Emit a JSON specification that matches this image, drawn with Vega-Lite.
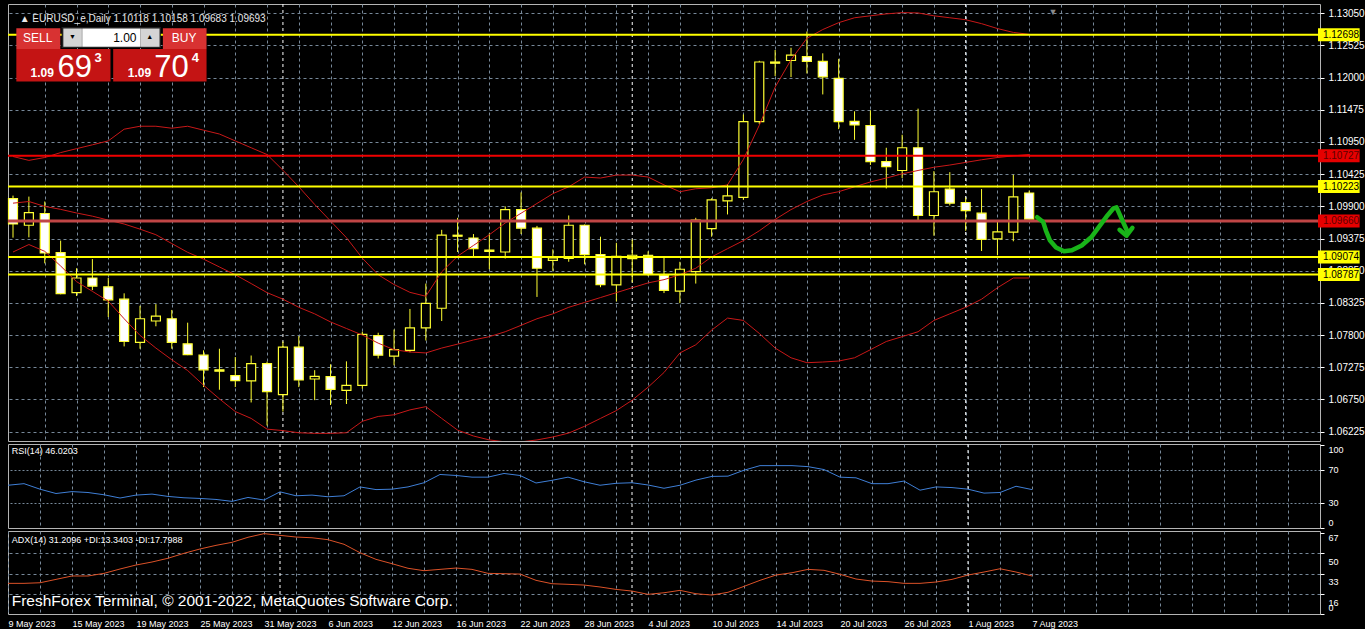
{
"$schema":"https://vega.github.io/schema/vega-lite/v6.json",
"background":"#000000",
"padding":{"left":5,"top":3,"right":0,"bottom":0},
"spacing":3,
"bounds":"flush",
"config":{"font":"Liberation Sans","view":{"stroke":"#b4b4b4","strokeWidth":1},"axis":{"labelOverlap":false}},
"datasets":{
"candles":[
{"k":0,"d":"2023-05-09","o":1.10027,"h":1.10075,"l":1.09389,"c":1.09612,"ub":1.10713,"mb":1.09952,"lb":1.09155,"rsi":51.2,"adx":25.1},
{"k":1,"d":"2023-05-10","o":1.09592,"h":1.10059,"l":1.09394,"c":1.09799,"ub":1.10650,"mb":1.09979,"lb":1.09277,"rsi":53.1,"adx":25.1},
{"k":2,"d":"2023-05-11","o":1.09783,"h":1.09979,"l":1.08970,"c":1.09139,"ub":1.10697,"mb":1.09899,"lb":1.09166,"rsi":46.5,"adx":25.6},
{"k":3,"d":"2023-05-12","o":1.09145,"h":1.09341,"l":1.08465,"c":1.08476,"ub":1.10777,"mb":1.09851,"lb":1.08927,"rsi":41.3,"adx":28.4},
{"k":4,"d":"2023-05-15","o":1.08492,"h":1.08890,"l":1.08438,"c":1.08731,"ub":1.10841,"mb":1.09792,"lb":1.08672,"rsi":43.6,"adx":31.2},
{"k":5,"d":"2023-05-16","o":1.08731,"h":1.09039,"l":1.08533,"c":1.08597,"ub":1.10904,"mb":1.09740,"lb":1.08513,"rsi":42.5,"adx":31.2},
{"k":6,"d":"2023-05-17","o":1.08587,"h":1.08731,"l":1.08094,"c":1.08374,"ub":1.10968,"mb":1.09676,"lb":1.08353,"rsi":39.8,"adx":33.4},
{"k":7,"d":"2023-05-18","o":1.08385,"h":1.08481,"l":1.07615,"c":1.07695,"ub":1.11159,"mb":1.09612,"lb":1.08066,"rsi":35.9,"adx":37.0},
{"k":8,"d":"2023-05-19","o":1.07679,"h":1.08278,"l":1.07577,"c":1.08066,"ub":1.11207,"mb":1.09528,"lb":1.07795,"rsi":39.4,"adx":40.3},
{"k":9,"d":"2023-05-22","o":1.08029,"h":1.08305,"l":1.07943,"c":1.08109,"ub":1.11207,"mb":1.09437,"lb":1.07588,"rsi":40.6,"adx":42.8},
{"k":10,"d":"2023-05-23","o":1.08066,"h":1.08210,"l":1.07577,"c":1.07679,"ub":1.11175,"mb":1.09293,"lb":1.07397,"rsi":37.8,"adx":45.9},
{"k":11,"d":"2023-05-24","o":1.07657,"h":1.08002,"l":1.07472,"c":1.07481,"ub":1.11207,"mb":1.09150,"lb":1.07221,"rsi":36.2,"adx":50.0},
{"k":12,"d":"2023-05-25","o":1.07472,"h":1.07551,"l":1.06951,"c":1.07233,"ub":1.11143,"mb":1.09039,"lb":1.06982,"rsi":35.4,"adx":53.6},
{"k":13,"d":"2023-05-26","o":1.07233,"h":1.07577,"l":1.06908,"c":1.07211,"ub":1.11080,"mb":1.08911,"lb":1.06759,"rsi":34.2,"adx":56.6},
{"k":14,"d":"2023-05-29","o":1.07138,"h":1.07441,"l":1.06951,"c":1.07058,"ub":1.10968,"mb":1.08784,"lb":1.06552,"rsi":31.9,"adx":59.1},
{"k":15,"d":"2023-05-30","o":1.07052,"h":1.07466,"l":1.06700,"c":1.07334,"ub":1.10856,"mb":1.08640,"lb":1.06440,"rsi":36.6,"adx":63.3},
{"k":16,"d":"2023-05-31","o":1.07334,"h":1.07366,"l":1.06324,"c":1.06876,"ub":1.10745,"mb":1.08492,"lb":1.06265,"rsi":33.5,"adx":66.3},
{"k":17,"d":"2023-06-01","o":1.06828,"h":1.07694,"l":1.06552,"c":1.07604,"ub":1.10490,"mb":1.08385,"lb":1.06241,"rsi":43.3,"adx":64.9},
{"k":18,"d":"2023-06-02","o":1.07604,"h":1.07783,"l":1.06951,"c":1.07067,"ub":1.10219,"mb":1.08253,"lb":1.06206,"rsi":38.6,"adx":63.5},
{"k":19,"d":"2023-06-05","o":1.07083,"h":1.07227,"l":1.06738,"c":1.07126,"ub":1.09931,"mb":1.08146,"lb":1.06196,"rsi":39.4,"adx":62.9},
{"k":20,"d":"2023-06-06","o":1.07121,"h":1.07323,"l":1.06659,"c":1.06914,"ub":1.09660,"mb":1.08014,"lb":1.06196,"rsi":37.4,"adx":61.3},
{"k":21,"d":"2023-06-07","o":1.06898,"h":1.07371,"l":1.06675,"c":1.06978,"ub":1.09389,"mb":1.07907,"lb":1.06206,"rsi":38.6,"adx":57.5},
{"k":22,"d":"2023-06-08","o":1.06978,"h":1.07854,"l":1.06924,"c":1.07811,"ub":1.09055,"mb":1.07800,"lb":1.06393,"rsi":49.2,"adx":50.5},
{"k":23,"d":"2023-06-09","o":1.07790,"h":1.07838,"l":1.07418,"c":1.07472,"ub":1.08784,"mb":1.07668,"lb":1.06472,"rsi":46.0,"adx":45.0},
{"k":24,"d":"2023-06-12","o":1.07456,"h":1.07890,"l":1.07306,"c":1.07561,"ub":1.08624,"mb":1.07561,"lb":1.06499,"rsi":46.5,"adx":41.4},
{"k":25,"d":"2023-06-13","o":1.07551,"h":1.08226,"l":1.07520,"c":1.07918,"ub":1.08497,"mb":1.07524,"lb":1.06579,"rsi":49.2,"adx":37.6},
{"k":26,"d":"2023-06-14","o":1.07918,"h":1.08640,"l":1.07711,"c":1.08316,"ub":1.08433,"mb":1.07508,"lb":1.06632,"rsi":54.2,"adx":35.6},
{"k":27,"d":"2023-06-15","o":1.08237,"h":1.09517,"l":1.08029,"c":1.09432,"ub":1.08832,"mb":1.07588,"lb":1.06440,"rsi":64.1,"adx":36.7},
{"k":28,"d":"2023-06-16","o":1.09429,"h":1.09713,"l":1.09155,"c":1.09413,"ub":1.09087,"mb":1.07652,"lb":1.06249,"rsi":62.9,"adx":37.8},
{"k":29,"d":"2023-06-19","o":1.09384,"h":1.09448,"l":1.09086,"c":1.09209,"ub":1.09262,"mb":1.07720,"lb":1.06153,"rsi":60.9,"adx":36.7},
{"k":30,"d":"2023-06-20","o":1.09187,"h":1.09458,"l":1.08874,"c":1.09166,"ub":1.09437,"mb":1.07774,"lb":1.06089,"rsi":60.9,"adx":33.4},
{"k":31,"d":"2023-06-21","o":1.09155,"h":1.09899,"l":1.09050,"c":1.09847,"ub":1.09629,"mb":1.07854,"lb":1.06057,"rsi":65.3,"adx":33.1},
{"k":32,"d":"2023-06-22","o":1.09847,"h":1.10128,"l":1.09448,"c":1.09544,"ub":1.09788,"mb":1.07959,"lb":1.06057,"rsi":62.9,"adx":32.8},
{"k":33,"d":"2023-06-23","o":1.09544,"h":1.09581,"l":1.08422,"c":1.08890,"ub":1.09947,"mb":1.08066,"lb":1.06089,"rsi":53.9,"adx":27.6},
{"k":34,"d":"2023-06-26","o":1.09018,"h":1.09198,"l":1.08847,"c":1.09059,"ub":1.10107,"mb":1.08146,"lb":1.06137,"rsi":57.1,"adx":24.8},
{"k":35,"d":"2023-06-27","o":1.09050,"h":1.09751,"l":1.08996,"c":1.09592,"ub":1.10219,"mb":1.08253,"lb":1.06201,"rsi":60.9,"adx":24.3},
{"k":36,"d":"2023-06-28","o":1.09592,"h":1.09605,"l":1.08954,"c":1.09113,"ub":1.10378,"mb":1.08332,"lb":1.06312,"rsi":55.4,"adx":23.7},
{"k":37,"d":"2023-06-29","o":1.09113,"h":1.09405,"l":1.08581,"c":1.08624,"ub":1.10362,"mb":1.08412,"lb":1.06440,"rsi":51.2,"adx":22.1},
{"k":38,"d":"2023-06-30","o":1.08619,"h":1.09305,"l":1.08348,"c":1.09086,"ub":1.10410,"mb":1.08492,"lb":1.06568,"rsi":53.5,"adx":20.1},
{"k":39,"d":"2023-07-03","o":1.09048,"h":1.09357,"l":1.08661,"c":1.09102,"ub":1.10410,"mb":1.08572,"lb":1.06738,"rsi":54.2,"adx":18.7},
{"k":40,"d":"2023-07-04","o":1.09102,"h":1.09166,"l":1.08761,"c":1.08788,"ub":1.10378,"mb":1.08651,"lb":1.06950,"rsi":51.5,"adx":16.0},
{"k":41,"d":"2023-07-05","o":1.08777,"h":1.09059,"l":1.08485,"c":1.08528,"ub":1.10250,"mb":1.08704,"lb":1.07189,"rsi":47.6,"adx":17.3},
{"k":42,"d":"2023-07-06","o":1.08517,"h":1.08995,"l":1.08321,"c":1.08874,"ub":1.10139,"mb":1.08784,"lb":1.07508,"rsi":51.2,"adx":19.3},
{"k":43,"d":"2023-07-07","o":1.08836,"h":1.09713,"l":1.08640,"c":1.09676,"ub":1.10187,"mb":1.08890,"lb":1.07641,"rsi":57.4,"adx":16.5},
{"k":44,"d":"2023-07-10","o":1.09538,"h":1.10032,"l":1.09405,"c":1.10006,"ub":1.10203,"mb":1.09075,"lb":1.07880,"rsi":61.8,"adx":15.4},
{"k":45,"d":"2023-07-11","o":1.09990,"h":1.10261,"l":1.09768,"c":1.10070,"ub":1.10250,"mb":1.09209,"lb":1.08077,"rsi":62.1,"adx":17.7},
{"k":46,"d":"2023-07-12","o":1.10048,"h":1.11399,"l":1.10006,"c":1.11283,"ub":1.10665,"mb":1.09341,"lb":1.08039,"rsi":69.2,"adx":22.6},
{"k":47,"d":"2023-07-13","o":1.11283,"h":1.12275,"l":1.11244,"c":1.12255,"ub":1.11223,"mb":1.09501,"lb":1.07827,"rsi":74.7,"adx":27.6},
{"k":48,"d":"2023-07-14","o":1.12255,"h":1.12451,"l":1.12025,"c":1.12236,"ub":1.11845,"mb":1.09687,"lb":1.07588,"rsi":74.7,"adx":32.0},
{"k":49,"d":"2023-07-17","o":1.12280,"h":1.12487,"l":1.12009,"c":1.12366,"ub":1.12291,"mb":1.09847,"lb":1.07429,"rsi":74.7,"adx":33.9},
{"k":50,"d":"2023-07-18","o":1.12344,"h":1.12753,"l":1.12068,"c":1.12264,"ub":1.12642,"mb":1.09979,"lb":1.07349,"rsi":73.5,"adx":36.7},
{"k":51,"d":"2023-07-19","o":1.12264,"h":1.12397,"l":1.11726,"c":1.12012,"ub":1.12785,"mb":1.10086,"lb":1.07360,"rsi":70.0,"adx":35.9},
{"k":52,"d":"2023-07-20","o":1.11988,"h":1.12307,"l":1.11160,"c":1.11283,"ub":1.12897,"mb":1.10139,"lb":1.07376,"rsi":60.9,"adx":32.6},
{"k":53,"d":"2023-07-21","o":1.11287,"h":1.11451,"l":1.10985,"c":1.11228,"ub":1.12977,"mb":1.10219,"lb":1.07429,"rsi":60.1,"adx":28.7},
{"k":54,"d":"2023-07-24","o":1.11219,"h":1.11467,"l":1.10575,"c":1.10629,"ub":1.13009,"mb":1.10298,"lb":1.07561,"rsi":53.1,"adx":27.0},
{"k":55,"d":"2023-07-25","o":1.10629,"h":1.10856,"l":1.10192,"c":1.10549,"ub":1.13040,"mb":1.10362,"lb":1.07695,"rsi":53.1,"adx":26.5},
{"k":56,"d":"2023-07-26","o":1.10485,"h":1.11068,"l":1.10362,"c":1.10856,"ub":1.13061,"mb":1.10431,"lb":1.07774,"rsi":56.2,"adx":25.1},
{"k":57,"d":"2023-07-27","o":1.10856,"h":1.11494,"l":1.09645,"c":1.09751,"ub":1.13056,"mb":1.10485,"lb":1.07854,"rsi":45.3,"adx":25.1},
{"k":58,"d":"2023-07-28","o":1.09751,"h":1.10474,"l":1.09421,"c":1.10138,"ub":1.13009,"mb":1.10538,"lb":1.08039,"rsi":49.2,"adx":26.2},
{"k":59,"d":"2023-07-31","o":1.10182,"h":1.10458,"l":1.09915,"c":1.09952,"ub":1.12977,"mb":1.10574,"lb":1.08146,"rsi":48.4,"adx":28.4},
{"k":60,"d":"2023-08-01","o":1.09963,"h":1.10043,"l":1.09501,"c":1.09831,"ub":1.12945,"mb":1.10617,"lb":1.08253,"rsi":46.5,"adx":32.0},
{"k":61,"d":"2023-08-02","o":1.09788,"h":1.10182,"l":1.09171,"c":1.09362,"ub":1.12881,"mb":1.10660,"lb":1.08385,"rsi":41.8,"adx":34.5},
{"k":62,"d":"2023-08-03","o":1.09369,"h":1.09644,"l":1.09102,"c":1.09485,"ub":1.12801,"mb":1.10697,"lb":1.08572,"rsi":42.5,"adx":37.2},
{"k":63,"d":"2023-08-04","o":1.09480,"h":1.10415,"l":1.09330,"c":1.10054,"ub":1.12738,"mb":1.10724,"lb":1.08731,"rsi":50.0,"adx":34.5},
{"k":64,"d":"2023-08-07","o":1.10118,"h":1.10158,"l":1.09683,"c":1.09693,"ub":1.12706,"mb":1.10745,"lb":1.08731,"rsi":46.0,"adx":31.2}
],
"seps":[{"k":17},{"k":39},{"k":60}],
"levels":[{"p":1.12698,"kind":"line"},{"p":1.10223,"kind":"line"},{"p":1.09074,"kind":"line"},{"p":1.08787,"kind":"line"},{"p":1.10727,"kind":"alert"},{"p":1.09660,"kind":"bid"}],
"arrow":[
{"seg":1,"i":0,"x":64.5,"y":1.09724},{"seg":1,"i":1,"x":64.88,"y":1.09645},{"seg":1,"i":2,"x":65.06,"y":1.09501},{"seg":1,"i":3,"x":65.31,"y":1.09342},{"seg":1,"i":4,"x":65.69,"y":1.09230},{"seg":1,"i":5,"x":66.19,"y":1.09166},{"seg":1,"i":6,"x":66.69,"y":1.09182},{"seg":1,"i":7,"x":67.31,"y":1.09262},{"seg":1,"i":8,"x":67.94,"y":1.09405},{"seg":1,"i":9,"x":68.44,"y":1.09581},{"seg":1,"i":10,"x":68.94,"y":1.09756},{"seg":1,"i":11,"x":69.31,"y":1.09868},{"seg":1,"i":12,"x":69.5,"y":1.09884},{"seg":1,"i":13,"x":69.69,"y":1.09772},{"seg":1,"i":14,"x":69.94,"y":1.09629},{"seg":1,"i":15,"x":70.19,"y":1.09485},
{"seg":2,"i":0,"x":69.69,"y":1.09517},{"seg":2,"i":1,"x":70.13,"y":1.09421},{"seg":2,"i":2,"x":70.5,"y":1.09549}
]
},
"vconcat":[
{
"width":1312,"height":437,
"layer":[
{"data":{"name":"seps"},"mark":{"type":"rule","color":"#ffffff","strokeDash":[3,3],"strokeWidth":1},
 "encoding":{"x":{"field":"k","type":"quantitative","title":null,"scale":{"domain":[0,82],"nice":false,"zero":false},
  "axis":{"orient":"bottom","title":null,"zindex":0,"tickCount":200,"values":[2,4,6,8,10,12,14,16,18,20,22,24,26,28,30,32,34,36,38,40,42,44,46,48,50,52,54,56,58,60,62,64,66,68,70,72,74,76,78,80],"labels":false,"ticks":false,"domain":false,"grid":true,"gridColor":"#778899","gridDash":[3,3],"gridWidth":1}}}},
{"data":{"name":"candles"},"mark":{"type":"rule","color":"#ffff33","strokeWidth":1},
 "encoding":{"x":{"field":"k","type":"quantitative","title":null,"scale":{"domain":[0,82],"nice":false,"zero":false}},
  "y":{"field":"l","type":"quantitative","title":null,"scale":{"domain":[1.06153,1.1312],"nice":false,"zero":false},
   "axis":{"orient":"right","title":null,"zindex":0,"tickCount":200,"values":[1.06225,1.0675,1.07275,1.078,1.08325,1.0885,1.09375,1.099,1.10425,1.1095,1.11475,1.12,1.12525,1.1305],"format":".5f","labelColor":"#ffffff","labelFontSize":10,"tickColor":"#ffffff","tickSize":4,"labelPadding":4,"domain":false,"grid":true,"gridColor":"#778899","gridDash":[3,3],"labelFlush":false,"labelOverlap":false,"labelBound":false}},
  "y2":{"field":"h"}}},
{"data":{"name":"candles"},"mark":{"type":"bar","orient":"vertical","size":9,"stroke":"#ffff33","strokeWidth":1.2},
 "encoding":{"x":{"field":"k","type":"quantitative","title":null,"scale":{"domain":[0,82],"nice":false,"zero":false}},
  "y":{"field":"o","type":"quantitative","title":null,"scale":{"domain":[1.06153,1.1312],"nice":false,"zero":false}},
  "y2":{"field":"c"},
  "fill":{"condition":{"test":"datum.c < datum.o","value":"#ffffff"},"value":"#000000"}}},
{"data":{"name":"candles"},"mark":{"type":"line","color":"#c81818","strokeWidth":1,"clip":true},
 "encoding":{"x":{"field":"k","type":"quantitative","title":null,"scale":{"domain":[0,82],"nice":false,"zero":false}},
  "y":{"field":"ub","type":"quantitative","title":null,"scale":{"domain":[1.06153,1.1312],"nice":false,"zero":false}}}},
{"data":{"name":"candles"},"mark":{"type":"line","color":"#c81818","strokeWidth":1,"clip":true},
 "encoding":{"x":{"field":"k","type":"quantitative","title":null,"scale":{"domain":[0,82],"nice":false,"zero":false}},
  "y":{"field":"mb","type":"quantitative","title":null,"scale":{"domain":[1.06153,1.1312],"nice":false,"zero":false}}}},
{"data":{"name":"candles"},"mark":{"type":"line","color":"#c81818","strokeWidth":1,"clip":true},
 "encoding":{"x":{"field":"k","type":"quantitative","title":null,"scale":{"domain":[0,82],"nice":false,"zero":false}},
  "y":{"field":"lb","type":"quantitative","title":null,"scale":{"domain":[1.06153,1.1312],"nice":false,"zero":false}}}},
{"data":{"name":"levels"},"transform":[{"filter":"datum.kind == 'line'"}],"mark":{"type":"rule","color":"#ffff00","strokeWidth":2},
 "encoding":{"y":{"field":"p","type":"quantitative","title":null,"scale":{"domain":[1.06153,1.1312],"nice":false,"zero":false}}}},
{"data":{"name":"levels"},"transform":[{"filter":"datum.kind == 'alert'"}],"mark":{"type":"rule","color":"#f00000","strokeWidth":2},
 "encoding":{"y":{"field":"p","type":"quantitative","title":null,"scale":{"domain":[1.06153,1.1312],"nice":false,"zero":false}}}},
{"data":{"name":"levels"},"transform":[{"filter":"datum.kind == 'bid'"}],"mark":{"type":"rule","color":"#c04646","strokeWidth":3},
 "encoding":{"y":{"field":"p","type":"quantitative","title":null,"scale":{"domain":[1.06153,1.1312],"nice":false,"zero":false}}}},
{"data":{"name":"levels"},"mark":{"type":"bar","orient":"horizontal","size":13},
 "encoding":{"x":{"datum":82.19,"type":"quantitative","scale":{"domain":[0,82],"nice":false,"zero":false}},"x2":{"datum":84.81},
  "y":{"field":"p","type":"quantitative","title":null,"scale":{"domain":[1.06153,1.1312],"nice":false,"zero":false}},
  "color":{"condition":{"test":"datum.kind == 'line'","value":"#ffff00"},"value":"#e60000"}}},
{"data":{"name":"levels"},"mark":{"type":"text","align":"left","baseline":"middle","fontSize":10},
 "encoding":{"x":{"datum":82.5,"type":"quantitative","scale":{"domain":[0,82],"nice":false,"zero":false}},
  "y":{"field":"p","type":"quantitative","title":null,"scale":{"domain":[1.06153,1.1312],"nice":false,"zero":false}},
  "text":{"field":"p","type":"quantitative","format":".5f"},
  "color":{"condition":{"test":"datum.kind == 'line'","value":"#000000"},"value":"#5c0000"}}},
{"data":{"name":"arrow"},"mark":{"type":"line","color":"#19b419","strokeWidth":4.5,"strokeCap":"round","strokeJoin":"round"},
 "encoding":{"x":{"field":"x","type":"quantitative","title":null,"scale":{"domain":[0,82],"nice":false,"zero":false}},
  "y":{"field":"y","type":"quantitative","title":null,"scale":{"domain":[1.06153,1.1312],"nice":false,"zero":false}},
  "detail":{"field":"seg","type":"nominal"},"order":{"field":"i","type":"quantitative"}}},
{"data":{"values":[{}]},"mark":{"type":"text","text":"▲ EURUSD_e,Daily  1.10118 1.10158 1.09683 1.09693","align":"left","baseline":"middle","fontSize":10,"color":"#e8e8e8"},
 "encoding":{"x":{"datum":0.42,"type":"quantitative"},"y":{"datum":1.12956,"type":"quantitative"}}},
{"data":{"values":[{}]},"mark":{"type":"text","text":"▼","align":"center","baseline":"middle","fontSize":9,"color":"#8a8a8a"},
 "encoding":{"x":{"datum":65.5,"type":"quantitative"},"y":{"datum":1.13072,"type":"quantitative"}}},
{"data":{"values":[{}]},"mark":{"type":"rect","color":"#d83232"},
 "encoding":{"x":{"datum":0.21,"type":"quantitative"},"x2":{"datum":2.98},"y":{"datum":1.12806,"type":"quantitative"},"y2":{"datum":1.12467}}},
{"data":{"values":[{}]},"mark":{"type":"rect","color":"#c41414"},
 "encoding":{"x":{"datum":0.21,"type":"quantitative"},"x2":{"datum":6.14},"y":{"datum":1.12467,"type":"quantitative"},"y2":{"datum":1.11936}}},
{"data":{"values":[{}]},"mark":{"type":"rect","color":"#d83232"},
 "encoding":{"x":{"datum":9.44,"type":"quantitative"},"x2":{"datum":12.19},"y":{"datum":1.12806,"type":"quantitative"},"y2":{"datum":1.12467}}},
{"data":{"values":[{}]},"mark":{"type":"rect","color":"#c41414"},
 "encoding":{"x":{"datum":6.31,"type":"quantitative"},"x2":{"datum":12.19},"y":{"datum":1.12467,"type":"quantitative"},"y2":{"datum":1.11936}}},
{"data":{"values":[{}]},"mark":{"type":"rect","color":"#202020"},
 "encoding":{"x":{"datum":3.06,"type":"quantitative"},"x2":{"datum":9.31},"y":{"datum":1.12825,"type":"quantitative"},"y2":{"datum":1.12482}}},
{"data":{"values":[{}]},"mark":{"type":"rect","color":"#ffffff"},
 "encoding":{"x":{"datum":4.36,"type":"quantitative"},"x2":{"datum":8.04},"y":{"datum":1.12801,"type":"quantitative"},"y2":{"datum":1.12503}}},
{"data":{"values":[{}]},"mark":{"type":"rect","color":"#d4d4d4"},
 "encoding":{"x":{"datum":3.17,"type":"quantitative"},"x2":{"datum":4.34},"y":{"datum":1.12801,"type":"quantitative"},"y2":{"datum":1.12503}}},
{"data":{"values":[{}]},"mark":{"type":"rect","color":"#d4d4d4"},
 "encoding":{"x":{"datum":8.06,"type":"quantitative"},"x2":{"datum":9.23},"y":{"datum":1.12801,"type":"quantitative"},"y2":{"datum":1.12503}}},
{"data":{"values":[{}]},"mark":{"type":"text","text":"SELL","align":"center","baseline":"middle","fontSize":12,"color":"#ffffff"},
 "encoding":{"x":{"datum":1.56,"type":"quantitative"},"y":{"datum":1.12642,"type":"quantitative"}}},
{"data":{"values":[{}]},"mark":{"type":"text","text":"BUY","align":"center","baseline":"middle","fontSize":12,"color":"#ffffff"},
 "encoding":{"x":{"datum":10.78,"type":"quantitative"},"y":{"datum":1.12642,"type":"quantitative"}}},
{"data":{"values":[{}]},"mark":{"type":"text","text":"1.00","align":"right","baseline":"middle","fontSize":12,"color":"#000000"},
 "encoding":{"x":{"datum":7.78,"type":"quantitative"},"y":{"datum":1.1265,"type":"quantitative"}}},
{"data":{"values":[{}]},"mark":{"type":"text","text":"▼","align":"center","baseline":"middle","fontSize":7,"color":"#000000"},
 "encoding":{"x":{"datum":3.75,"type":"quantitative"},"y":{"datum":1.12658,"type":"quantitative"}}},
{"data":{"values":[{}]},"mark":{"type":"text","text":"▲","align":"center","baseline":"middle","fontSize":7,"color":"#000000"},
 "encoding":{"x":{"datum":8.61,"type":"quantitative"},"y":{"datum":1.12658,"type":"quantitative"}}},
{"data":{"values":[{}]},"mark":{"type":"text","text":"1.09","align":"left","baseline":"alphabetic","fontSize":12,"fontWeight":"bold","color":"#ffffff"},
 "encoding":{"x":{"datum":1.1,"type":"quantitative"},"y":{"datum":1.12009,"type":"quantitative"}}},
{"data":{"values":[{}]},"mark":{"type":"text","text":"69","align":"left","baseline":"alphabetic","fontSize":31,"color":"#ffffff"},
 "encoding":{"x":{"datum":2.81,"type":"quantitative"},"y":{"datum":1.12009,"type":"quantitative"}}},
{"data":{"values":[{}]},"mark":{"type":"text","text":"3","align":"left","baseline":"alphabetic","fontSize":13,"fontWeight":"bold","color":"#ffffff"},
 "encoding":{"x":{"datum":5.14,"type":"quantitative"},"y":{"datum":1.12254,"type":"quantitative"}}},
{"data":{"values":[{}]},"mark":{"type":"text","text":"1.09","align":"left","baseline":"alphabetic","fontSize":12,"fontWeight":"bold","color":"#ffffff"},
 "encoding":{"x":{"datum":7.23,"type":"quantitative"},"y":{"datum":1.12009,"type":"quantitative"}}},
{"data":{"values":[{}]},"mark":{"type":"text","text":"70","align":"left","baseline":"alphabetic","fontSize":31,"color":"#ffffff"},
 "encoding":{"x":{"datum":8.89,"type":"quantitative"},"y":{"datum":1.12009,"type":"quantitative"}}},
{"data":{"values":[{}]},"mark":{"type":"text","text":"4","align":"left","baseline":"alphabetic","fontSize":13,"fontWeight":"bold","color":"#ffffff"},
 "encoding":{"x":{"datum":11.25,"type":"quantitative"},"y":{"datum":1.12254,"type":"quantitative"}}}
]
},
{
"width":1312,"height":84,
"layer":[
{"data":{"name":"seps"},"mark":{"type":"rule","color":"#ffffff","strokeDash":[3,3],"strokeWidth":1},
 "encoding":{"x":{"field":"k","type":"quantitative","title":null,"scale":{"domain":[0,82],"nice":false,"zero":false},
  "axis":{"orient":"bottom","title":null,"zindex":0,"tickCount":200,"values":[2,4,6,8,10,12,14,16,18,20,22,24,26,28,30,32,34,36,38,40,42,44,46,48,50,52,54,56,58,60,62,64,66,68,70,72,74,76,78,80],"labels":false,"ticks":false,"domain":false,"grid":true,"gridColor":"#778899","gridDash":[3,3],"gridWidth":1}}}},
{"data":{"name":"candles"},"mark":{"type":"line","color":"#3f7fd6","strokeWidth":1},
 "encoding":{"x":{"field":"k","type":"quantitative","title":null,"scale":{"domain":[0,82],"nice":false,"zero":false}},
  "y":{"field":"rsi","type":"quantitative","title":null,"scale":{"domain":[0,100.6],"nice":false,"zero":false},
   "axis":{"orient":"right","title":null,"zindex":0,"tickCount":200,"values":[0,30,70,100],"format":"d",
    "labelOffset":{"condition":[{"test":"datum.value == 0","value":-6},{"test":"datum.value == 100","value":5}],"value":0},
    "labelColor":"#ffffff","labelFontSize":9,"tickColor":"#ffffff","tickSize":4,"labelPadding":4,"domain":false,"grid":true,"gridColor":"#778899","gridDash":[2,2],"gridOpacity":{"condition":{"test":"datum.value == 0 || datum.value == 100","value":0},"value":1},"labelFlush":false,"labelOverlap":false,"labelBound":false}}}},
{"data":{"values":[{}]},"mark":{"type":"text","text":"RSI(14) 46.0203","align":"left","baseline":"middle","fontSize":9,"color":"#ffffff"},
 "encoding":{"x":{"datum":0.23,"type":"quantitative"},"y":{"datum":91.7,"type":"quantitative"}}}
]
},
{
"width":1312,"height":83,
"layer":[
{"data":{"name":"seps"},"mark":{"type":"rule","color":"#ffffff","strokeDash":[3,3],"strokeWidth":1},
 "encoding":{"x":{"field":"k","type":"quantitative","title":null,"scale":{"domain":[0,82],"nice":false,"zero":false},
  "axis":{"orient":"bottom","title":null,"zindex":0,"tickCount":200,"values":[0,2,4,6,8,10,12,14,16,18,20,22,24,26,28,30,32,34,36,38,40,42,44,46,48,50,52,54,56,58,60,62,64,66,68,70,72,74,76,78,80],
   "labelExpr":"datum.value % 4 == 0 && datum.value <= 64 ? ['9 May 2023','15 May 2023','19 May 2023','25 May 2023','31 May 2023','6 Jun 2023','12 Jun 2023','16 Jun 2023','22 Jun 2023','28 Jun 2023','4 Jul 2023','10 Jul 2023','14 Jul 2023','20 Jul 2023','26 Jul 2023','1 Aug 2023','7 Aug 2023'][datum.value / 4] : ''",
   "labelAlign":"left","labelBaseline":"top","labelColor":"#ffffff","labelFontSize":9,"labelPadding":5,"ticks":false,"domain":false,"grid":true,"gridColor":"#778899","gridDash":[3,3],"gridWidth":1,"labelFlush":false,"labelOverlap":false,"labelBound":false}}}},
{"data":{"name":"candles"},"mark":{"type":"line","color":"#dc5228","strokeWidth":1},
 "encoding":{"x":{"field":"k","type":"quantitative","title":null,"scale":{"domain":[0,82],"nice":false,"zero":false}},
  "y":{"field":"adx","type":"quantitative","title":null,"scale":{"domain":[-0.3,68.5],"nice":false,"zero":false},
   "axis":{"orient":"right","title":null,"zindex":0,"tickCount":200,"values":[0,16,33,50,67],"format":"d",
    "labelOffset":{"condition":[{"test":"datum.value == 0","value":-6},{"test":"datum.value == 67","value":5}],"value":8},
    "labelColor":"#ffffff","labelFontSize":9,"tickColor":"#ffffff","tickSize":4,"labelPadding":4,"domain":false,"grid":true,"gridColor":"#778899","gridDash":[3,3],"gridOpacity":{"condition":{"test":"datum.value == 0 || datum.value == 67","value":0},"value":1},"labelFlush":false,"labelOverlap":false,"labelBound":false}}}},
{"data":{"values":[{}]},"mark":{"type":"text","text":"ADX(14) 31.2096 +DI:13.3403 -DI:17.7988","align":"left","baseline":"middle","fontSize":9,"color":"#ffffff"},
 "encoding":{"x":{"datum":0.23,"type":"quantitative"},"y":{"datum":60.8,"type":"quantitative"}}},
{"data":{"values":[{}]},"mark":{"type":"text","text":"FreshForex Terminal, © 2001-2022, MetaQuotes Software Corp.","align":"left","baseline":"middle","fontSize":15.5,"color":"#ffffff"},
 "encoding":{"x":{"datum":0.23,"type":"quantitative"},"y":{"datum":10.4,"type":"quantitative"}}}
]
}
]
}
